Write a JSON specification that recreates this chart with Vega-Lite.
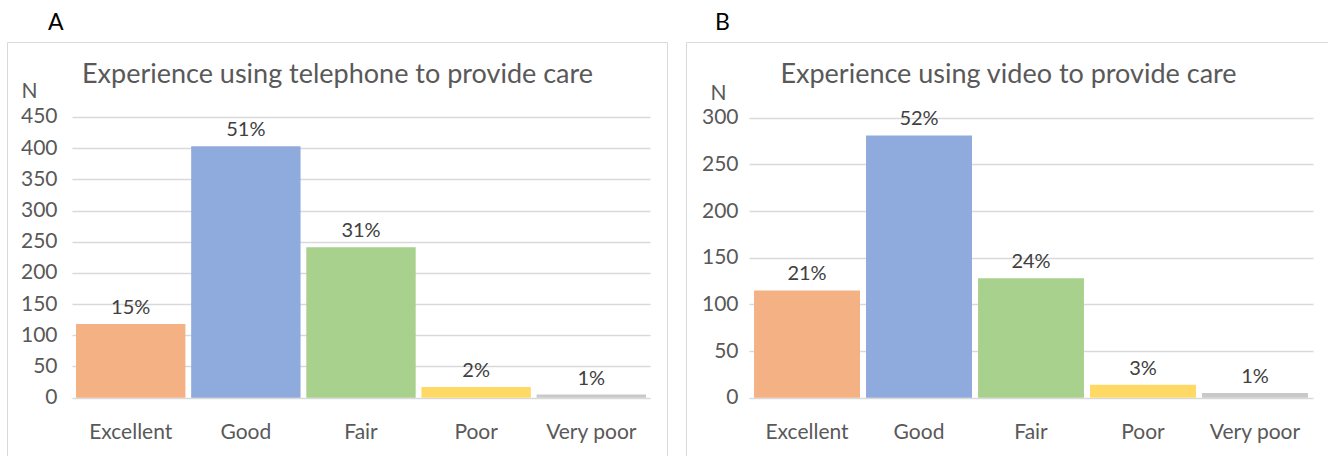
{
  "$schema": "https://vega.github.io/schema/vega-lite/v6.json",
  "padding": {"left": 6, "top": 11, "right": 0, "bottom": 0},
  "background": "white",
  "datasets": {
    "telephone": [
      {"rating": "Excellent", "n": 118, "pct": "15%"},
      {"rating": "Good", "n": 403, "pct": "51%"},
      {"rating": "Fair", "n": 241, "pct": "31%"},
      {"rating": "Poor", "n": 17, "pct": "2%"},
      {"rating": "Very poor", "n": 5, "pct": "1%"}
    ],
    "video": [
      {"rating": "Excellent", "n": 115, "pct": "21%"},
      {"rating": "Good", "n": 281, "pct": "52%"},
      {"rating": "Fair", "n": 128, "pct": "24%"},
      {"rating": "Poor", "n": 14, "pct": "3%"},
      {"rating": "Very poor", "n": 5, "pct": "1%"}
    ]
  },
  "spacing": 17,
  "hconcat": [
    {
      "width": 660,
      "height": 415,
      "data": {"name": "telephone"},
      "title": {"text": "A", "anchor": "start", "frame": "group", "dx": 41, "offset": -11, "baseline": "alphabetic", "fontSize": 23, "font": "Lato", "fontWeight": "normal", "color": "#000000"},
      "encoding": {
        "x": {
          "field": "rating", "type": "nominal",
          "sort": ["Excellent", "Good", "Fair", "Poor", "Very poor"],
          "scale": {"range": [65, 643], "paddingInner": 0.05, "paddingOuter": 0.035},
          "axis": {
            "orient": "bottom", "offset": -59.3, "labelPadding": 41, "labelBaseline": "alphabetic",
            "labelAngle": 0,
            "title": "Experience using telephone to provide care",
            "titleX": 330, "titleY": -315, "titleAlign": "center", "titleBaseline": "alphabetic", "titleAngle": 0
          }
        },
        "y": {
          "field": "n", "type": "quantitative",
          "scale": {"domain": [-95.1, 570.2], "nice": false, "zero": false},
          "axis": {
            "orient": "left", "offset": -65, "values": [0, 50, 100, 150, 200, 250, 300, 350, 400, 450],
            "labelPadding": 15, "title": "N", "titleAngle": 0, "titleX": -43, "titleY": 55,
            "titleAlign": "center", "titleBaseline": "alphabetic", "grid": true
          }
        }
      },
      "layer": [
        {
          "mark": {"type": "bar"},
          "encoding": {
            "y2": {"datum": 0},
            "color": {
              "field": "rating", "type": "nominal", "legend": null,
              "scale": {"domain": ["Excellent", "Good", "Fair", "Poor", "Very poor"], "range": ["#F4B183", "#8FAADC", "#A9D18E", "#FFD966", "#C9C9C9"]}
            }
          }
        },
        {
          "mark": {"type": "text", "baseline": "alphabetic", "dy": -10, "fontSize": 20, "font": "Lato", "color": "#404040"},
          "encoding": {"text": {"field": "pct"}}
        }
      ]
    },
    {
      "width": 644,
      "height": 415,
      "data": {"name": "video"},
      "title": {"text": "B", "anchor": "start", "frame": "group", "dx": 29, "offset": -11, "baseline": "alphabetic", "fontSize": 23, "font": "Lato", "fontWeight": "normal", "color": "#000000"},
      "encoding": {
        "x": {
          "field": "rating", "type": "nominal",
          "sort": ["Excellent", "Good", "Fair", "Poor", "Very poor"],
          "scale": {"range": [63, 627], "paddingInner": 0.054, "paddingOuter": 0.045},
          "axis": {
            "orient": "bottom", "offset": -59.3, "labelPadding": 41, "labelBaseline": "alphabetic",
            "labelAngle": 0,
            "title": "Experience using video to provide care",
            "titleX": 322, "titleY": -315, "titleAlign": "center", "titleBaseline": "alphabetic", "titleAngle": 0
          }
        },
        "y": {
          "field": "n", "type": "quantitative",
          "scale": {"domain": [-63.5, 381.1], "nice": false, "zero": false},
          "axis": {
            "orient": "left", "offset": -63, "values": [0, 50, 100, 150, 200, 250, 300],
            "labelPadding": 11, "title": "N", "titleAngle": 0, "titleX": -31, "titleY": 57,
            "titleAlign": "center", "titleBaseline": "alphabetic", "grid": true
          }
        }
      },
      "layer": [
        {
          "mark": {"type": "bar"},
          "encoding": {
            "y2": {"datum": 0},
            "color": {
              "field": "rating", "type": "nominal", "legend": null,
              "scale": {"domain": ["Excellent", "Good", "Fair", "Poor", "Very poor"], "range": ["#F4B183", "#8FAADC", "#A9D18E", "#FFD966", "#C9C9C9"]}
            }
          }
        },
        {
          "mark": {"type": "text", "baseline": "alphabetic", "dy": -10, "fontSize": 20, "font": "Lato", "color": "#404040"},
          "encoding": {"text": {"field": "pct"}}
        }
      ]
    }
  ],
  "config": {
    "view": {"stroke": "#D9D9D9", "strokeWidth": 1},
    "axis": {
      "domain": false, "ticks": false, "tickSize": 0,
      "labelFont": "Lato", "labelFontSize": 21, "labelColor": "#595959",
      "titleFont": "Lato", "titleFontSize": 27, "titleColor": "#595959", "titleFontWeight": "normal",
      "gridColor": "#D9D9D9", "gridWidth": 1.5
    },
    "axisY": {"titleFontSize": 21}
  }
}
